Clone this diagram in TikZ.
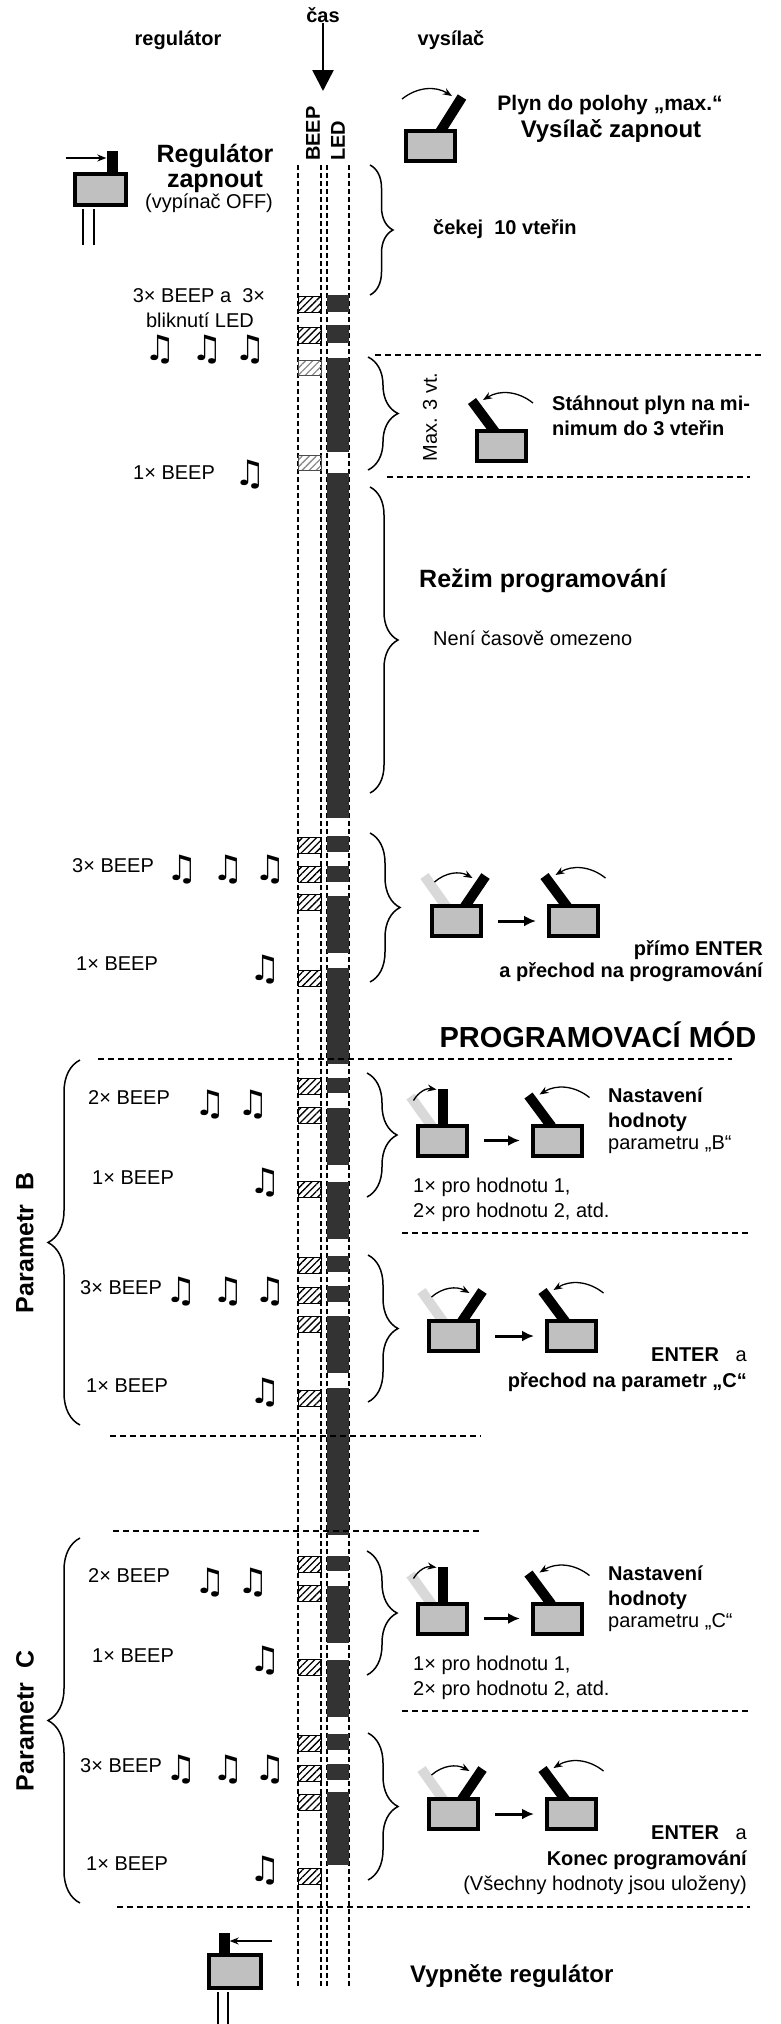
\documentclass[tikz,border=0pt]{standalone}
\usepackage{fontspec}
\setmainfont{Liberation Sans}
\newfontfamily\notefont{DejaVu Sans}
\usetikzlibrary{arrows.meta,decorations.pathreplacing,patterns.meta,positioning}

\definecolor{boxgray}{HTML}{C0C0C0}
\definecolor{ghostgray}{HTML}{D9D9D9}
\definecolor{leddark}{HTML}{333333}

\newcommand{\fsz}[1]{\fontsize{#1}{#1}\selectfont}

\tikzset{
  lbl/.style={font={\fsz{20}}, inner sep=0pt},
  blbl/.style={font={\bfseries\fsz{20}}, inner sep=0pt},
  big/.style={font={\bfseries\fsz{25}}, inner sep=0pt},
  note/.style={font={\notefont\bfseries\fsz{35}}, inner sep=0pt},
  txbox/.style={draw, line width=4pt, fill=boxgray, minimum width=49pt, minimum height=30pt, inner sep=0pt},
  knob/.style={fill=black, inner sep=0pt, minimum width=11pt, minimum height=21pt},
  stick/.style={line width=10pt},
  ghost/.style={line width=10pt, draw=ghostgray},
  swing/.style={-{Stealth[length=9pt,width=7pt]}, line width=1.3pt},
  push/.style={-{Latex[length=12pt,width=11pt]}, line width=3pt},
  timearrow/.style={-{Triangle[length=21pt,width=21pt]}, line width=2.5pt},
  col/.style={dash pattern=on 5pt off 3pt, line width=1.2pt},
  sepline/.style={dash pattern=on 6pt off 4pt, line width=1.3pt},
  brc/.style={decorate, decoration={brace, amplitude=#1}, line width=1.5pt},
  beep/.style={draw, line width=0.8pt, pattern={Lines[angle=45,distance=5pt,line width=1.3pt]}},
  beepg/.style={draw=black!70, line width=0.8pt, pattern={Lines[angle=45,distance=5pt,line width=1.3pt]}, pattern color=black!45}
}

% transmitter, stick to the left
\newcommand{\txL}[3]{%
\begin{scope}[shift={(#2,#3)}]
\draw[stick] (-6,-14) -- (-29,-45);
\node[txbox] (#1) at (0,0) {};
\draw[swing] (32,-43) to[bend right=35] (-18,-46);
\end{scope}}
% transmitter, ghost left and stick to the right
\newcommand{\txR}[3]{%
\begin{scope}[shift={(#2,#3)}]
\draw[ghost] (-10,-14) -- (-32,-45);
\draw[stick] (8,-14) -- (29,-45);
\node[txbox] (#1) at (0,0) {};
\draw[swing] (-22,-39) to[bend left=35] (16,-43);
\end{scope}}
% transmitter, ghost left and stick upright
\newcommand{\txV}[3]{%
\begin{scope}[shift={(#2,#3)}]
\draw[ghost] (-10.5,-14) -- (-32,-44);
\draw[stick] (0,-14) -- (0,-52);
\node[txbox] (#1) at (0,0) {};
\draw[swing] (-29,-40) to[bend left=35] (-6,-51);
\end{scope}}

\begin{document}
\begin{tikzpicture}[x=1pt,y=-1pt]
\useasboundingbox (0,0) rectangle (780,2024);

% headings
\node[blbl] (reg) at (178,40) {regulátor};
\node[blbl] (vys) at (451,40) {vysílač};
\node[blbl] (cas) at (323,15) {čas};
\coordinate (casend) at (323,91);
\draw[timearrow] (cas.south) -- (casend);
\node[blbl, rotate=90, anchor=west] (beeplbl) at (313,161) {BEEP};
\node[blbl, rotate=90, anchor=west] (ledlbl) at (338,161) {LED};

% time columns
\foreach \x in {298,321,327,349}
  \draw[col] (\x,165) -- (\x,1987);

% LED on
\foreach \a/\b in {295/312,325/343,358/452,473/818,836/852,866/882,896/953,968/1064,
                   1388/1535}
  \fill[leddark] (327,\a) rectangle (349,\b);
\fill[leddark] (327,1316) rectangle (349,1373);
\fill[leddark] (327,1792) rectangle (349,1865);

% BEEP
\foreach \t in {296,327,837,866,894,970}
  \draw[beep] (298,\t) rectangle +(23,16);
\foreach \t in {360,455}
  \draw[beepg] (298,\t) rectangle +(23,15);

% regulator on
\node[txbox, minimum width=51pt, minimum height=31pt] (swon) at (100.5,189.5) {};
\node[knob] (knobon) at (112,161.5) {};
\coordinate (pushon) at (66,158);
\draw[swing] (pushon) -- (knobon.west |- pushon);
\draw[line width=1.3pt] (83,209) -- (83,245) (94,209) -- (94,245);
\node[big] (regon) at (215,156) {Regulátor};
\node[big] (zap) at (215,182) {zapnout};
\node[lbl] (off) at (209,203) {(vypínač OFF)};

% transmitter on, full throttle
\draw[stick] (440,132) -- (462,97);
\node[txbox] (txon) at (430.5,146) {};
\draw[swing] (402,99) to[bend left=35] (452,96);
\node[font={\bfseries\fsz{21}}, inner sep=0pt] (plyn) at (610,105) {Plyn do polohy „max.“};
\node[font={\bfseries\fsz{24}}, inner sep=0pt] (vyson) at (611,131) {Vysílač zapnout};

\draw[brc=23] (370,165) -- (370,295);
\node[blbl, anchor=mid west] (cek) at (433,232) {čekej\ \ 10 vteřin};

\node[lbl] (b3a) at (199,296) {3× BEEP a\ \ 3×};
\node[lbl] (blik) at (200,320) {bliknutí LED};
\foreach \x [count=\i] in {160,207,250}
  \node[note] (nta\i) at (\x,350) {♫};

% throttle down
\draw[sepline] (375,355) -- (763,355);
\draw[brc=30] (368,357) -- (368,470);
\node[lbl, rotate=90] (max3) at (430,417) {Max. 3 vt.};
\txL{txmin}{501}{446}
\node[blbl, anchor=mid west] (stah) at (552,408) {Stáhnout plyn na mi-};
\node[blbl, anchor=mid west] (nim) at (552,433) {nimum do 3 vteřin};
\draw[sepline] (387,477) -- (750,477);

\node[lbl, anchor=mid west] (b1a) at (133,477) {1× BEEP};
\node[note] (ntb) at (250,475) {♫};

% programming mode
\draw[brc=28] (370,487) -- (370,793);
\node[big, anchor=mid west] (rezim) at (419,585) {Režim programování};
\node[lbl, anchor=mid west] (neni) at (433,643) {Není časově omezeno};

\node[lbl, anchor=mid west] (b3b) at (72,870) {3× BEEP};
\foreach \x [count=\i] in {182,228,270}
  \node[note] (ntc\i) at (\x,870) {♫};
\node[lbl, anchor=mid west] (b1b) at (76,968) {1× BEEP};
\node[note] (ntd) at (265,970) {♫};

\draw[brc=30] (370,833) -- (370,982);
\txR{ent1}{456.5}{921}
\txL{ent2}{573.5}{921}
\draw[push, shorten <=15pt, shorten >=11pt] (ent1) -- (ent2);
\node[blbl, anchor=mid east] (primo) at (763,953) {přímo ENTER};
\node[blbl, anchor=mid east] (prech) at (763,975) {a přechod na programování};

\node[font={\bfseries\fsz{29}}, inner sep=0pt] (pmod) at (598,1035) {PROGRAMOVACÍ MÓD};

% parameters B and C
\draw[sepline] (98,1059) -- (732,1059);
\foreach \p/\dy in {B/0,C/-478}{
\begin{scope}[yshift=\dy pt]
\foreach \t in {1078,1107,1181,1257,1287,1316,1390}
  \draw[beep] (298,\t) rectangle +(23,16);
\foreach \a/\b in {1078/1093,1108/1165,1182/1239,1256/1272,1286/1302}
  \fill[leddark] (327,\a) rectangle (349,\b);

\draw[brc=32] (80,1425) -- (80,1060);
\node[font={\bfseries\fsz{25}}, inner sep=0pt, rotate=90] (par\p) at (25,1243) {Parametr\ \ \p};

\node[lbl, anchor=mid west] (two\p) at (88,1102) {2× BEEP};
\foreach \x [count=\i] in {210,253}
  \node[note] (nte\p\i) at (\x,1105) {♫};
\node[lbl, anchor=mid west] (one\p) at (92,1182) {1× BEEP};
\node[note] (ntf\p) at (265,1183) {♫};

\node[lbl, anchor=mid west] (three\p) at (80,1292) {3× BEEP};
\foreach \x [count=\i] in {181,228,270}
  \node[note] (ntg\p\i) at (\x,1292) {♫};
\node[lbl, anchor=mid west] (last\p) at (86,1390) {1× BEEP};
\node[note] (nth\p) at (265,1393) {♫};

\draw[brc=30] (367,1073) -- (367,1197);
\txV{set\p}{442.5}{1140.5}
\txL{rel\p}{557.5}{1140.5}
\draw[push, shorten <=15pt, shorten >=11pt] (set\p) -- (rel\p);
\node[blbl, anchor=mid west] (nast\p) at (608,1100) {Nastavení};
\node[blbl, anchor=mid west] (hod\p) at (608,1125) {hodnoty};
\node[lbl, anchor=mid west] (parm\p) at (608,1147) {parametru „\p“};
\node[lbl, anchor=mid west] (pro\p) at (413,1190) {1× pro hodnotu 1,};
\node[lbl, anchor=mid west] (atd\p) at (413,1215) {2× pro hodnotu 2, atd.};
\draw[sepline] (402,1233) -- (748,1233);

\draw[brc=30] (368,1255) -- (368,1402);
\txR{ena\p}{453.5}{1336}
\txL{enb\p}{571.5}{1336}
\draw[push, shorten <=15pt, shorten >=11pt] (ena\p) -- (enb\p);
\node[lbl, anchor=mid east] (enter\p) at (747,1359) {\textbf{ENTER}\ \ \ a};
\end{scope}}

\node[blbl, anchor=mid east] (naC) at (747,1385) {přechod na parametr „C“};
\draw[sepline] (110,1436) -- (481,1436);
\draw[sepline] (113,1531) -- (481,1531);

\node[blbl, anchor=mid east] (konec) at (747,1863) {Konec programování};
\node[lbl, anchor=mid east] (ulo) at (747,1888) {(Všechny hodnoty jsou uloženy)};
\draw[sepline] (117,1907) -- (750,1907);

% regulator off
\node[txbox, minimum width=52pt, minimum height=33pt] (swoff) at (235,1971.5) {};
\node[knob] (knoboff) at (224,1943) {};
\coordinate (pushoff) at (272,1941);
\draw[swing] (pushoff) -- (knoboff.east |- pushoff);
\draw[line width=1.3pt] (218,1992) -- (218,2024) (228,1992) -- (228,2024);
\node[font={\bfseries\fsz{24}}, inner sep=0pt, anchor=mid west] (vyp) at (410,1980) {Vypněte regulátor};

\end{tikzpicture}
\end{document}
